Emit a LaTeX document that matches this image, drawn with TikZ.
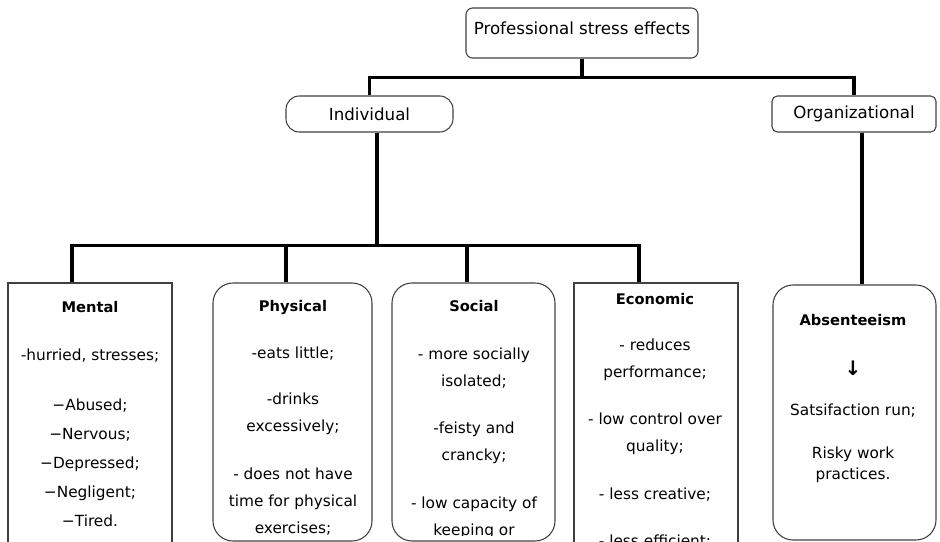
\documentclass[tikz,border=0pt]{standalone}
\usepackage{fontspec}
\setmainfont{DejaVu Sans}
\usetikzlibrary{calc}
\newcommand{\boxhead}[1]{{\fontsize{11}{20.25}\selectfont\bfseries #1}}

\begin{document}
\begin{tikzpicture}
[x=0.75pt, y=-0.75pt, every node/.style={color=black},
 box/.style={draw=black!75, line width=0.8pt, inner sep=0pt},
 conn/.style={line width=2.4pt},
 head/.style={font=\fontsize{12.5}{14}\selectfont},
 txt/.style={inner sep=0pt, align=center, anchor=north, font=\fontsize{11.5}{20.25}\selectfont}]
    \useasboundingbox (0, 0) rectangle (940, 542);
    \clip (0, 0) rectangle (940, 542);
    % upper levels
    \node[box, head, rounded corners=5pt, minimum width=174pt, minimum height=37.5pt,
        text height=16.5pt, text depth=13.5pt]
        (effects) at (582, 33) {Professional stress effects};
    \node[box, head, rounded corners=10pt, minimum width=125.25pt, minimum height=27pt]
        (ind) at (369.5, 114) {Individual};
    \node[box, head, rounded corners=4pt, minimum width=123pt, minimum height=27pt]
        (org) at (854, 114) {Organizational};
    % lower boxes
    \node[box, minimum width=123pt, minimum height=207.75pt] (mental) at (90, 421.5) {};
    \node[box, rounded corners=15pt, minimum width=119.25pt, minimum height=193.5pt] (phys) at (292.5, 412) {};
    \node[box, rounded corners=15pt, minimum width=122.25pt, minimum height=193.5pt] (soc) at (473.5, 412) {};
    \node[box, minimum width=123pt, minimum height=207.75pt] (econ) at (656, 421.5) {};
    \node[box, rounded corners=15pt, minimum width=122.25pt, minimum height=191.25pt] (absent) at (854.5, 412.5) {};
    % texts of the lower boxes
    \node[txt] (mentaltext) at (90, 301) {\boxhead{Mental}\\[15.75pt]
        -hurried, stresses;\\[17pt]
        −Abused;\\[1.5pt] −Nervous;\\[1.5pt] −Depressed;\\[1.5pt] −Negligent;\\[1.5pt] −Tired.};
    \begin{scope}
      \clip (200, 283) rectangle (560, 535);
      \node[txt] (phystext) at (293, 300) {\boxhead{Physical}\\[15pt]
          -eats little;\\[14.25pt]
          -drinks\\ excessively;\\[15.75pt]
          - does not have\\ time for physical\\ exercises;};
      \node[txt] (soctext) at (474, 300) {\boxhead{Social}\\[15.75pt]
          - more socially\\ isolated;\\[15pt]
          -feisty and\\ crancky;\\[15.75pt]
          - low capacity of\\ keeping or};
    \end{scope}
    \node[txt] (econtext) at (655, 293) {\boxhead{Economic}\\[14.25pt]
        - reduces\\ performance;\\[15pt]
        - low control over\\ quality;\\[15.75pt]
        - less creative;\\[15pt]
        - less efficient;};
    \node[txt] (absenttext) at (853, 314) {\boxhead{Absenteeism}\\[17pt]
        {\fontsize{15}{16}\selectfont\bfseries ↓}\\[10pt]
        Satsifaction run;\\[12pt]
        Risky work\\[-4.5pt] practices.};
    % connectors
    \draw[conn] (effects.south) -- ++(0, 19) coordinate (topbar);
    \draw[conn] (ind.north) -- (ind.north |- topbar) -- (org.north |- topbar) -- (org.north);
    \coordinate (indout) at ($(ind.south)+(7.5, 0)$);
    \draw[conn] (indout) -- ++(0, 113) coordinate (lowbar);
    \coordinate (dm) at ($(mental.north)+(-18, 0)$);
    \coordinate (dp) at ($(phys.north)+(-6.5, 0)$);
    \coordinate (ds) at ($(soc.north)+(-6.5, 0)$);
    \coordinate (de) at ($(econ.north)+(-17, 0)$);
    \draw[conn] (dm) -- (dm |- lowbar) -- (de |- lowbar) -- (de);
    \draw[conn] (dp) -- (dp |- lowbar);
    \draw[conn] (ds) -- (ds |- lowbar);
    \coordinate (orgout) at ($(org.south)+(8, 0)$);
    \draw[conn] (orgout) -- (orgout |- absent.north);
\end{tikzpicture}
\end{document}
